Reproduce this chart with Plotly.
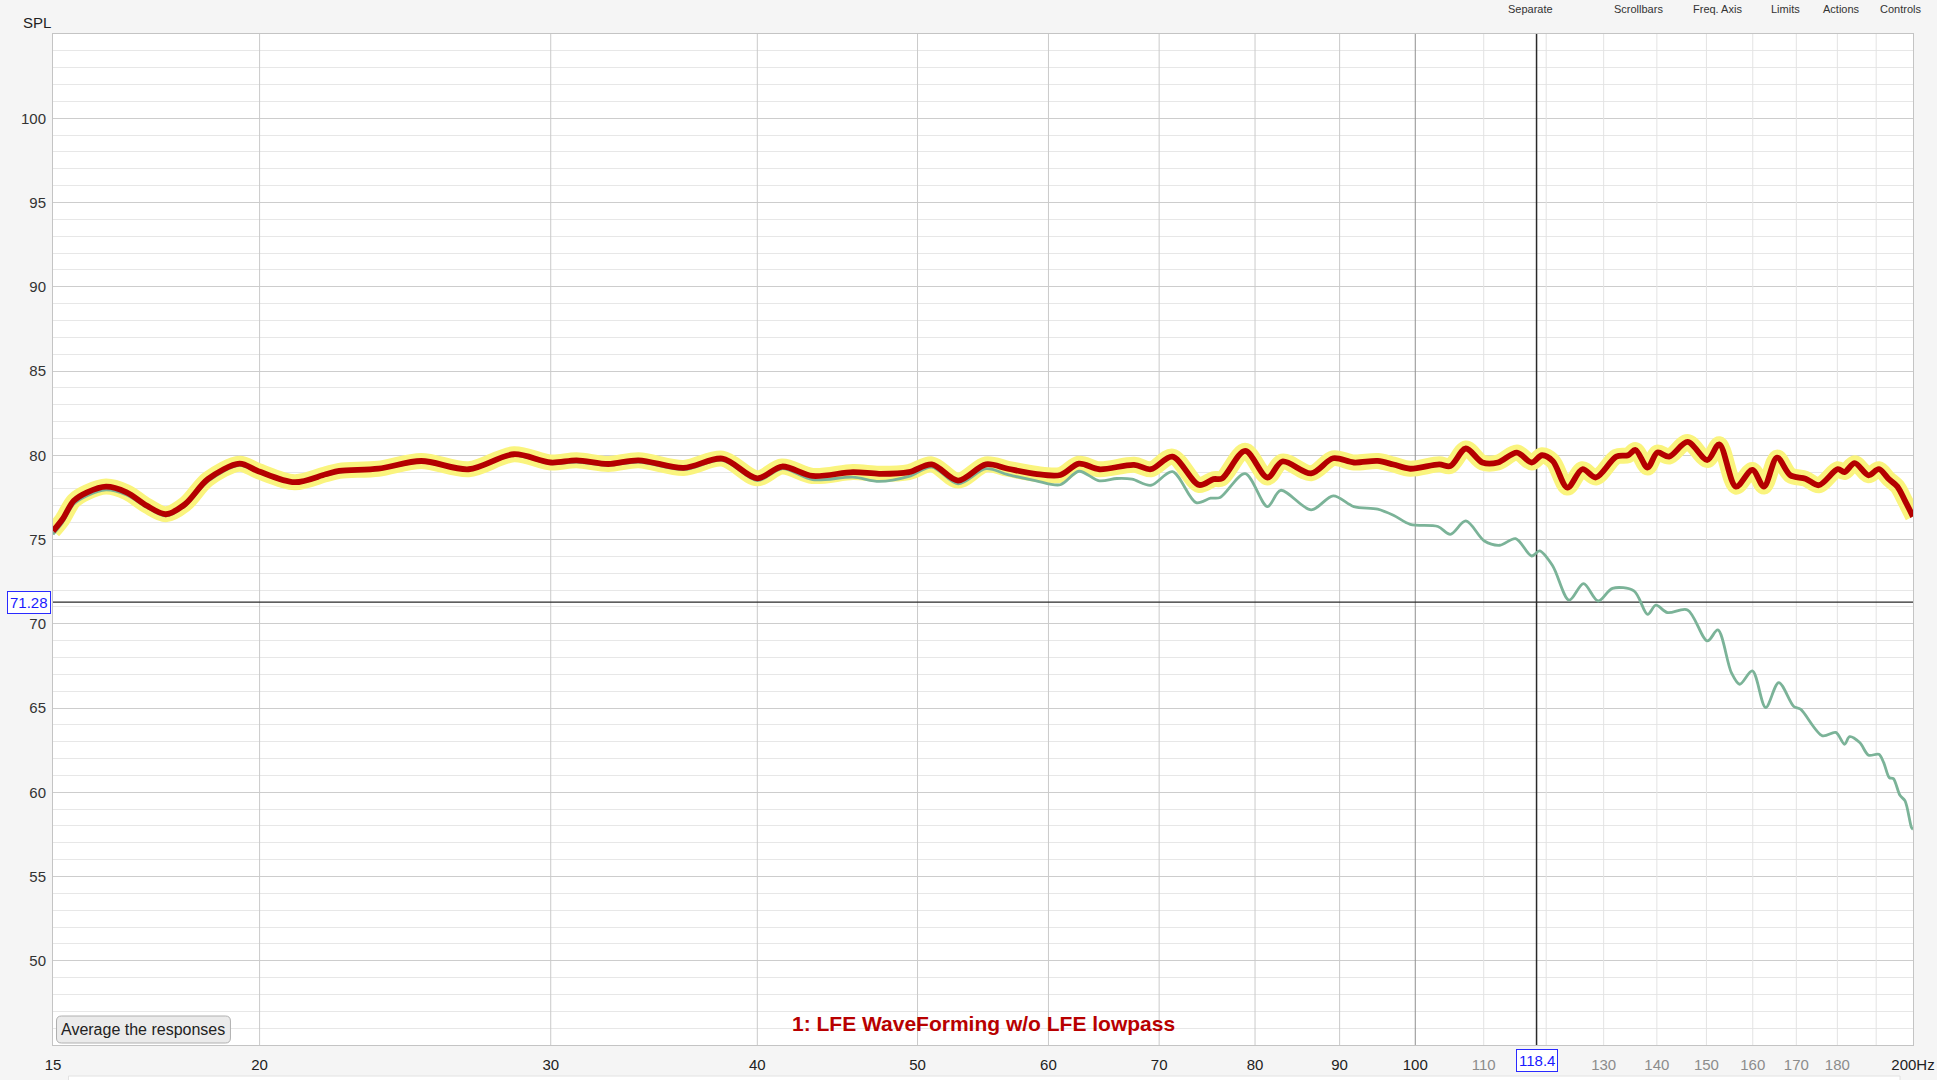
import math
import plotly.graph_objects as go

# ---------------- data ----------------
red_freq = [15.0, 15.2, 15.44, 15.73, 16.15, 16.62, 17.1, 17.55, 18.03, 18.61, 19.45, 19.95,
            21.0, 21.93, 22.35, 23.6, 25.05, 26.76, 28.5, 30.0, 31.1, 32.5, 33.9, 36.1, 38.1,
            40.0, 41.4, 43.2, 45.7, 47.4, 49.4, 51.0, 52.9, 55.0, 56.7, 58.9, 61.0, 62.6, 64.4,
            67.6, 69.2, 71.3, 74.0, 75.5, 76.4, 78.9, 81.4, 83.1, 86.5, 89.2, 91.8, 94.9, 97.0,
            99.3, 103.4, 105.0, 107.3, 109.8, 112.2, 115.2, 117.6, 119.3, 121.1, 123.6, 126.2,
            128.6, 132.3, 134.5, 135.9, 138.2, 140.1, 142.4, 146.1, 150.2, 152.7, 156.3, 159.9,
            162.5, 165.5, 168.6, 172.2, 175.4, 180.1, 181.8, 184.4, 188.0, 190.7, 193.4, 195.7,
            197.8, 200.0]
red_spl = [75.5, 76.2, 77.3, 77.8, 78.14, 77.8, 77.0, 76.5, 77.1, 78.58, 79.5, 79.07,
           78.4, 78.87, 79.07, 79.2, 79.66, 79.17, 80.06, 79.57, 79.7, 79.48, 79.7, 79.25, 79.8,
           78.63, 79.33, 78.77, 79.0, 78.9, 79.0, 79.46, 78.5, 79.46, 79.2, 78.9, 78.83, 79.5, 79.17,
           79.43, 79.17, 79.92, 78.24, 78.58, 78.62, 80.26, 78.68, 79.63, 78.93, 79.82, 79.57, 79.66, 79.45,
           79.2, 79.46, 79.36, 80.4, 79.57, 79.57, 80.16, 79.57, 80.0, 79.66, 78.08, 79.17,
           78.68, 79.92, 80.0, 80.31, 79.27, 80.16, 79.92, 80.79, 79.72, 80.65, 78.14, 79.13,
           78.14, 79.86, 78.81, 78.61, 78.22, 79.17, 79.0, 79.53, 78.81, 79.17, 78.58, 78.14,
           77.29, 76.36]

green_freq = [15.0, 15.2, 15.44, 15.73, 16.15, 16.62, 17.1, 17.55, 18.03, 18.61, 19.45, 19.95,
              21.0, 21.93, 22.35, 23.6, 25.05, 26.76, 28.5, 30.0, 31.1, 32.5, 33.9, 36.1, 38.1,
              40.0, 41.4, 43.2, 45.7, 47.4, 49.4, 51.0, 52.9, 55.0, 56.7, 58.9, 61.0, 62.6, 64.4,
              66.0, 67.4, 69.2, 71.3, 73.7, 75.2, 76.2, 78.9, 81.4, 82.9, 86.5, 89.2, 91.8, 94.9,
              97.0, 99.3, 103.2, 105.0, 107.3, 110.1, 112.5, 115.0, 117.6, 118.9, 121.1, 123.9,
              126.4, 129.0, 131.6, 135.6, 138.2, 139.8, 142.1, 146.1, 150.2, 152.4, 155.3, 157.1,
              159.9, 162.9, 165.9, 169.4, 171.0, 176.3, 179.6, 181.8, 183.1, 185.7, 188.0, 190.7,
              192.0, 193.5, 194.6, 196.4, 197.8, 199.6, 200.0]
green_spl = [75.3, 76.0, 77.1, 77.6, 77.95, 77.65, 76.9, 76.4, 77.0, 78.45, 79.4, 79.0,
             78.35, 78.8, 79.0, 79.15, 79.6, 79.12, 80.0, 79.5, 79.6, 79.4, 79.6, 79.15, 79.7,
             78.5, 79.2, 78.55, 78.7, 78.45, 78.75, 79.3, 78.3, 79.2, 78.85, 78.5, 78.25, 79.05, 78.48,
             78.62, 78.58, 78.22, 79.03, 77.19, 77.45, 77.49, 78.91, 76.95, 77.92, 76.76, 77.59, 76.95, 76.8,
             76.44, 75.9, 75.77, 75.31, 76.1, 74.91, 74.66, 75.05, 74.02, 74.32, 73.43, 71.4,
             72.38, 71.35, 72.1, 71.95, 70.56, 71.1, 70.66, 70.82, 68.98, 69.63, 67.1, 66.41,
             67.2, 65.03, 66.51, 65.09, 64.93, 63.35, 63.55, 62.85, 63.3, 62.95, 62.2, 62.25,
             61.76, 60.87, 60.81, 59.82, 59.49, 57.9, 57.8]

x_tick_vals = [15, 20, 30, 40, 50, 60, 70, 80, 90, 100, 110, 130, 140, 150, 160, 170, 180, 200]
x_tick_text = ["15", "20", "30", "40", "50", "60", "70", "80", "90", "100",
               "110", "130", "140", "150", "160", "170", "180", "200Hz"]
x_minor_labels = {110, 120, 130, 140, 150, 160, 170, 180}
x_major_grid = [20, 30, 40, 50, 60, 70, 80, 90]
x_decade_grid = [100]
x_minor_grid = [110, 120, 130, 140, 150, 160, 170, 180, 190]
y_tick_vals = [50, 55, 60, 65, 70, 75, 80, 85, 90, 95, 100]

cursor_freq = 118.4
cursor_spl = 71.28
legend_text = "1: LFE WaveForming w/o LFE lowpass"
button_text = "Average the responses"
toolbar_labels = ["Separate", "Scrollbars", "Freq. Axis", "Limits", "Actions", "Controls"]
toolbar_px = [1530, 1638, 1717, 1785, 1841, 1900]

Y_MIN, Y_MAX = 45, 105
X_MIN, X_MAX = 15, 200

# ---------------- figure ----------------
W, H = 1937, 1080
L, R, T, B = 52.5, 24, 34, 35
pw, ph = W - L - R, H - T - B


def px_x(px):
    return (px - L) / pw


def px_y(py):
    return (H - B - py) / ph


FONT = "Liberation Sans, Arial, Helvetica, sans-serif"

fig = go.Figure()


def vlines(vals, color, width):
    xs, ys = [], []
    for v in vals:
        xs += [v, v, None]
        ys += [Y_MIN, Y_MAX, None]
    fig.add_trace(go.Scatter(x=xs, y=ys, mode="lines", line=dict(color=color, width=width),
                             hoverinfo="skip", showlegend=False))


vlines(x_minor_grid, "#e3e3e3", 1)
vlines(x_major_grid, "#cacaca", 1)
vlines(x_decade_grid, "#8f8f8f", 1)

# cursor lines
fig.add_trace(go.Scatter(x=[X_MIN, X_MAX], y=[cursor_spl, cursor_spl], mode="lines",
                         line=dict(color="#2a2a2a", width=1.3), hoverinfo="skip", showlegend=False))
fig.add_trace(go.Scatter(x=[cursor_freq, cursor_freq], y=[Y_MIN, Y_MAX], mode="lines",
                         line=dict(color="#2a2a2a", width=1.5), hoverinfo="skip", showlegend=False))

# yellow halo of selected trace
fig.add_trace(go.Scatter(x=red_freq, y=red_spl, mode="lines",
                         line=dict(color="#faf47e", width=16, shape="spline", smoothing=0.9),
                         hoverinfo="skip", showlegend=False))
# green (other measurement)
fig.add_trace(go.Scatter(x=green_freq, y=green_spl, mode="lines",
                         line=dict(color="#7bb398", width=2.8, shape="spline", smoothing=0.9),
                         showlegend=False))
# red selected measurement
fig.add_trace(go.Scatter(x=red_freq, y=red_spl, mode="lines",
                         line=dict(color="#b40000", width=5.8, shape="spline", smoothing=0.9),
                         showlegend=False))

ticktext = []
for v, t in zip(x_tick_vals, x_tick_text):
    if v in x_minor_labels:
        ticktext.append('<span style="color:#8c8c8c">%s</span>' % t)
    else:
        ticktext.append(t)

fig.update_layout(
    width=W, height=H, autosize=False,
    margin=dict(l=L, r=R, t=T, b=B, pad=0, autoexpand=False),
    paper_bgcolor="#f5f5f5",
    plot_bgcolor="#ffffff",
    hovermode=False,
    font=dict(family=FONT, size=15, color="#222222"),
    xaxis=dict(type="log", range=[math.log10(X_MIN), math.log10(X_MAX)], tickvals=x_tick_vals,
               ticktext=ticktext, tickangle=0, automargin=False,
               showgrid=False, zeroline=False, ticks="", showline=True, linecolor="#c4c4c4",
               linewidth=1, mirror=True, tickfont=dict(size=15, color="#222222"),
               ticklabelstandoff=6),
    yaxis=dict(range=[Y_MIN, Y_MAX], tickvals=y_tick_vals, showgrid=True, gridcolor="#cdcdcd",
               gridwidth=1, zeroline=False, ticks="", showline=True, linecolor="#c4c4c4",
               linewidth=1, mirror=True, tickfont=dict(size=15, color="#333333"),
               ticklabelstandoff=3, automargin=False,
               minor=dict(dtick=1, tick0=0, showgrid=True, gridcolor="#e7e7e7", gridwidth=1)),
)

ann = []
ann.append(dict(text="SPL", xref="paper", yref="paper", x=px_x(36.5), y=px_y(22),
                xanchor="center", yanchor="middle", showarrow=False,
                font=dict(size=15, color="#222222")))
for lab, px in zip(toolbar_labels, toolbar_px):
    ann.append(dict(text=lab, xref="paper", yref="paper", x=px_x(px), y=px_y(1),
                    xanchor="center", yanchor="top", showarrow=False,
                    font=dict(size=11, color="#333333")))
ann.append(dict(text="%.2f" % cursor_spl, xref="paper", yref="y", x=px_x(50.7), y=cursor_spl,
                xanchor="right", yanchor="middle", showarrow=False,
                font=dict(size=15, color="#1a1aff"), bgcolor="#ffffff",
                bordercolor="#2a2aff", borderwidth=1, borderpad=2))
ann.append(dict(text="%.1f" % cursor_freq, xref="x", yref="paper", x=math.log10(cursor_freq),
                y=px_y(1060), xanchor="center", yanchor="middle", showarrow=False,
                font=dict(size=15, color="#1a1aff"), bgcolor="#ffffff",
                bordercolor="#2a2aff", borderwidth=1, borderpad=2))
ann.append(dict(text="<b>%s</b>" % legend_text, xref="paper", yref="paper", x=px_x(983),
                y=px_y(1023), xanchor="center", yanchor="middle", showarrow=False,
                font=dict(size=21, color="#b80000")))
ann.append(dict(text=button_text, xref="paper", yref="paper", x=px_x(143), y=px_y(1029.5),
                xanchor="center", yanchor="middle", showarrow=False,
                font=dict(size=16, color="#222222")))
fig.update_layout(annotations=ann)

# rounded button shape
bx0, bx1, by0, by1 = px_x(56), px_x(230), px_y(1043), px_y(1016)
rx, ry = 5 / pw, 5 / ph
path = ("M %f %f L %f %f Q %f %f %f %f L %f %f Q %f %f %f %f L %f %f Q %f %f %f %f "
        "L %f %f Q %f %f %f %f Z") % (
    bx0 + rx, by0, bx1 - rx, by0, bx1, by0, bx1, by0 + ry,
    bx1, by1 - ry, bx1, by1, bx1 - rx, by1,
    bx0 + rx, by1, bx0, by1, bx0, by1 - ry,
    bx0, by0 + ry, bx0, by0, bx0 + rx, by0)
shapes = [
    dict(type="path", path=path, xref="paper", yref="paper",
         fillcolor="#ebebeb", line=dict(color="#b0b0b0", width=1), layer="above"),
    dict(type="rect", xref="paper", yref="paper", x0=px_x(68), x1=px_x(1900),
         y0=px_y(1085), y1=px_y(1076), fillcolor="#ffffff", line=dict(color="#e2e2e2", width=1),
         layer="above"),
]
fig.update_layout(shapes=shapes)

fig.write_html("out.html",
               config={"responsive": False, "displayModeBar": False},
               post_script="document.body.style.margin='0';document.body.style.overflow='hidden';")
